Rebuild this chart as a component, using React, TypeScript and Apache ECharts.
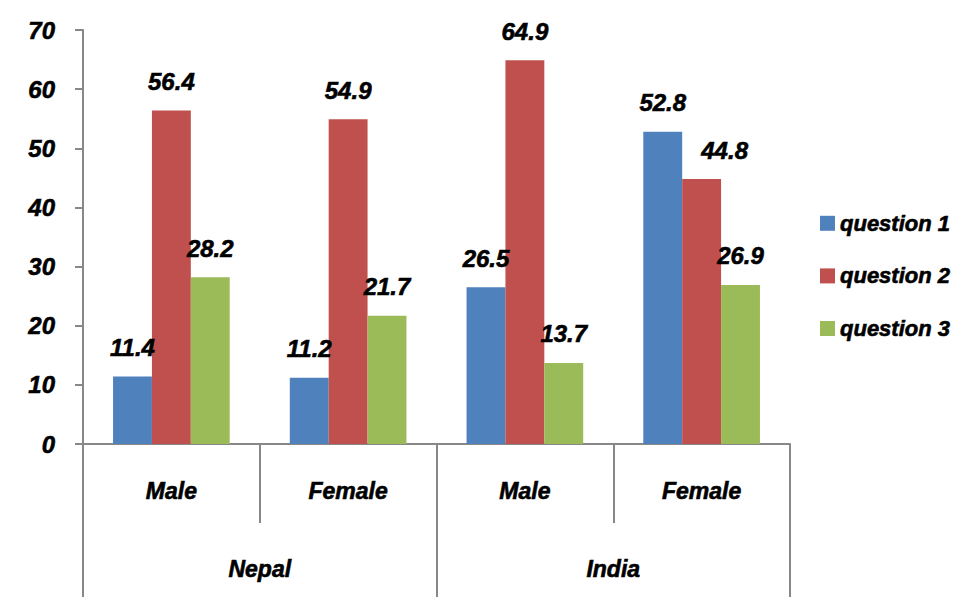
import React, { useEffect, useRef } from "react";
import * as echarts from "echarts";

const subCategories = ["Male", "Female", "Male", "Female"];
const countries = ["Nepal", "India"];
const seriesNames = ["question 1", "question 2", "question 3"];
const q1 = [11.4, 11.2, 26.5, 52.8];
const q2 = [56.4, 54.9, 64.9, 44.8];
const q3 = [28.2, 21.7, 13.7, 26.9];
const colors = ["#4F81BD", "#C0504D", "#9BBB59"];

const FONT = "'Liberation Sans', Arial, sans-serif";
const AXIS = "#888888";

export default function App() {
  const ref = useRef<HTMLDivElement>(null);
  useEffect(() => {
    if (!ref.current) return;
    const chart = echarts.init(ref.current, undefined, { renderer: "svg" });
    const txt = {
      fontFamily: FONT,
      fontWeight: "bold" as const,
      fontStyle: "italic" as const,
      color: "#000",
      textBorderColor: "#000",
      textBorderWidth: 0.6,
    };
    const values = [q1, q2, q3];
    chart.setOption({
      animation: false,
      backgroundColor: "#fff",
      grid: { left: 83, right: 176, top: 30, bottom: 153, containLabel: false },
      legend: {
        orient: "vertical",
        left: 815,
        top: 207,
        itemWidth: 15,
        itemHeight: 15,
        itemGap: 30,
        icon: "rect",
        data: seriesNames,
        textStyle: { ...txt, fontSize: 22, lineHeight: 22 },
      },
      xAxis: [
        {
          type: "category",
          data: subCategories,
          position: "bottom",
          axisLine: { show: true, lineStyle: { color: AXIS, width: 2 } },
          axisTick: { show: true, interval: 0, length: 79, lineStyle: { color: AXIS, width: 2 } },
          axisLabel: { ...txt, fontSize: 23, margin: 35, interval: 0 },
          splitLine: { show: false },
        },
        {
          type: "category",
          data: countries,
          position: "bottom",
          offset: 0,
          axisLine: { show: false },
          axisTick: { show: true, interval: 0, length: 160, lineStyle: { color: AXIS, width: 2 } },
          axisLabel: { ...txt, fontSize: 23, margin: 113, interval: 0 },
          splitLine: { show: false },
        },
      ],
      yAxis: {
        type: "value",
        min: 0,
        max: 70,
        interval: 10,
        axisLine: { show: true, lineStyle: { color: AXIS, width: 2 } },
        axisTick: { show: true, length: 8, lineStyle: { color: AXIS, width: 2 } },
        axisLabel: { ...txt, fontSize: 24, margin: 28 },
        splitLine: { show: false },
      },
      series: seriesNames.map((name, i) => ({
        name,
        type: "bar",
        xAxisIndex: 0,
        data: values[i].map((v, j) =>
          i === 1 && j === 3 ? { value: v, label: { offset: [23, 0] } } : v
        ),
        barGap: "0%",
        barCategoryGap: "34%",
        itemStyle: { color: colors[i] },
        label: {
          show: true,
          position: "top",
          distance: 17,
          ...txt,
          fontSize: 24,
          formatter: (p: any) => Number(p.value).toFixed(1),
        },
      })),
    });
    return () => chart.dispose();
  }, []);
  return <div ref={ref} style={{ width: 966, height: 597, position: "absolute", left: 0, top: 0 }} />;
}
